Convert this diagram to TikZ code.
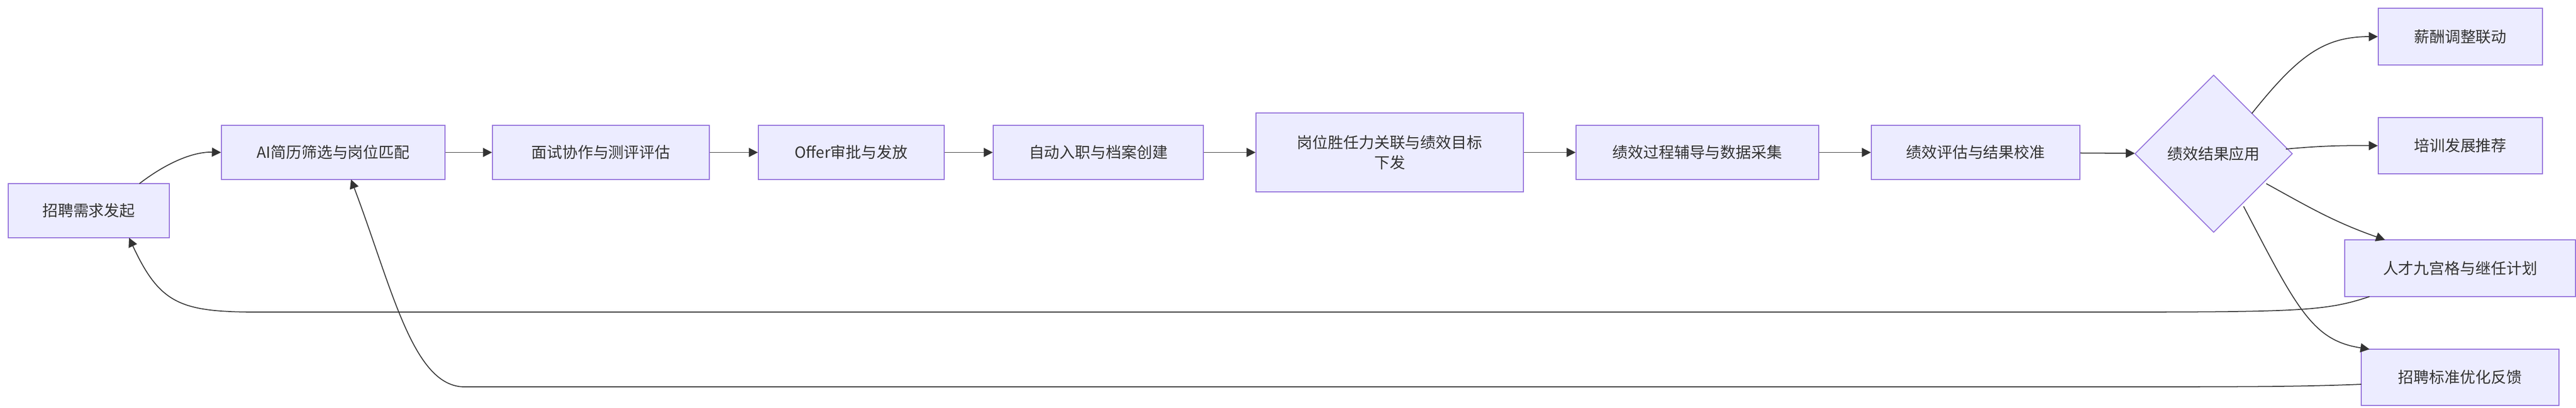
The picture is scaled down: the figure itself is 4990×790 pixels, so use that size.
\documentclass[tikz,border=0pt]{standalone}
\usepackage{fontspec}
\setmainfont{Noto Sans CJK SC}
\usetikzlibrary{shapes.geometric,arrows.meta}
\definecolor{bx}{HTML}{ECECFF}
\definecolor{bd}{HTML}{9370DB}
\definecolor{ln}{HTML}{333333}
\begin{document}
\begin{tikzpicture}[x=0.01cm,y=-0.01cm,
  box/.style={draw=bd,fill=bx,line width=0.5pt,text=ln,font=\fontsize{8.5}{11}\selectfont,inner sep=0pt,align=center},
  conn/.style={draw=ln,line width=0.5pt,-{Triangle[length=5pt,width=5pt]}}]
\useasboundingbox (0,0) rectangle (4990,790);
\newcommand{\bx}[6]{\node[box,minimum width={(#4-#2)*0.01cm},minimum height={(#5-#3)*0.01cm}] (#1) at ({(#2+#4)/2},{(#3+#5)/2}) {#6};}
\bx{A}{16}{356}{328}{461}{招聘需求发起}
\bx{B}{429}{243}{862}{348}{AI简历筛选与岗位匹配}
\bx{C}{954}{243}{1374}{348}{面试协作与测评评估}
\bx{D}{1469}{243}{1829}{348}{Offer审批与发放}
\bx{E}{1924}{243}{2331}{348}{自动入职与档案创建}
\bx{F}{2433}{219}{2951}{372}{岗位胜任力关联与绩效目标\\下发}
\bx{G}{3053}{243}{3523}{348}{绩效过程辅导与数据采集}
\bx{H}{3625}{243}{4029}{348}{绩效评估与结果校准}
\node[box,diamond,aspect=1,minimum width=3.05cm,minimum height=3.05cm] (I) at (4288,298) {绩效结果应用};
\bx{J}{4607}{16}{4925}{126}{薪酬调整联动}
\bx{K}{4607}{228}{4925}{337}{培训发展推荐}
\bx{L}{4542}{465}{4989}{575}{人才九宫格与继任计划}
\bx{M}{4574}{677}{4957}{786}{招聘标准优化反馈}
\draw[conn] (270,356) .. controls (330,310) and (380,294) .. (B.west);
\draw[conn] (B) -- (C);
\draw[conn] (C) -- (D);
\draw[conn] (D) -- (E);
\draw[conn] (E) -- (F);
\draw[conn] (F) -- (G);
\draw[conn] (G) -- (H);
\draw[conn] (H) -- (I);
\draw[conn] (4362,220) .. controls (4450,110) and (4500,71) .. (J.west);
\draw[conn] (4428,289) .. controls (4500,282) and (4550,282) .. (K.west);
\draw[conn] (4390,356) .. controls (4470,400) and (4520,430) .. (4620,465);
\draw[conn] (4346,400) .. controls (4450,600) and (4480,660) .. (4590,677);
\draw[conn] (4590,575) .. controls (4500,605) and (4450,605) .. (4000,605) -- (500,605) .. controls (350,605) and (310,590) .. (250,461);
\draw[conn] (4574,745) .. controls (4450,750) and (4350,750) .. (4000,750) -- (900,750) .. controls (800,750) and (760,560) .. (680,348);
\end{tikzpicture}
\end{document}
